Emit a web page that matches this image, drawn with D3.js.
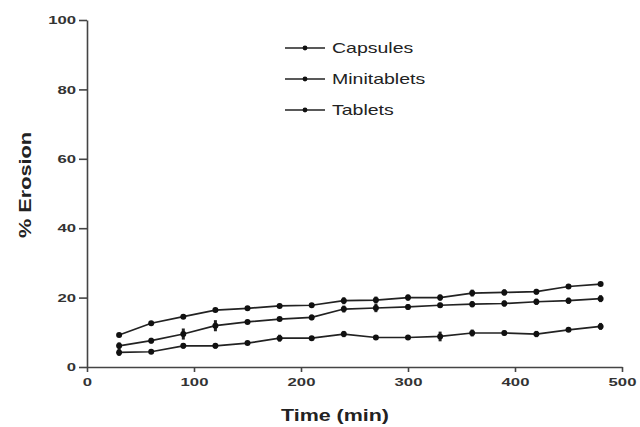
<!DOCTYPE html>
<html>
<head>
<meta charset="utf-8">
<script src="https://cdn.jsdelivr.net/npm/d3@7"></script>
<style>
  body { margin: 0; background: #fff; }
  svg { font-family: "Liberation Sans", Arial, sans-serif; }
  .axis path, .axis line { stroke: #444; stroke-width: 1.6; }
  .axis text { fill: #333; font-size: 11.5px; font-weight: bold; }
  .series path { fill: none; stroke: #222; stroke-width: 1.7; }
</style>
</head>
<body>
<svg id="chart" width="640" height="427"></svg>
<script>
var times = [30, 60, 90, 120, 150, 180, 210, 240, 270, 300, 330, 360, 390, 420, 450, 480];
var capsules = [9.2, 12.6, 14.5, 16.4, 16.9, 17.6, 17.8, 19.1, 19.3, 20.0, 20.0, 21.3, 21.5, 21.7, 23.2, 23.9];
var capsulesErr = [0.6, 0.4, 0.6, 0.5, 0.4, 0.6, 0.5, 1.0, 1.0, 0.9, 0.9, 1.0, 0.9, 0.8, 0.5, 0.4];
var minitablets = [6.1, 7.6, 9.5, 11.9, 13.0, 13.8, 14.3, 16.7, 17.0, 17.3, 17.8, 18.1, 18.3, 18.8, 19.1, 19.7];
var minitabletsErr = [1.0, 0.8, 1.6, 1.6, 0.6, 0.4, 0.8, 1.0, 1.2, 0.8, 0.7, 0.9, 0.9, 0.9, 0.9, 1.0];
var tablets = [4.2, 4.4, 6.1, 6.1, 6.9, 8.3, 8.3, 9.5, 8.5, 8.5, 8.8, 9.8, 9.8, 9.5, 10.7, 11.7];
var tabletsErr = [1.0, 0.6, 0.8, 0.8, 0.4, 1.0, 0.5, 0.9, 0.4, 0.4, 1.4, 1.0, 0.7, 0.9, 0.4, 1.0];
var seriesNames = ["Capsules", "Minitablets", "Tablets"];
var xTicks = [0, 100, 200, 300, 400, 500];
var yTicks = [0, 20, 40, 60, 80, 100];

var svg = d3.select("#chart");
var x = d3.scaleLinear().domain([0, 500]).range([87, 622]);
var y = d3.scaleLinear().domain([0, 100]).range([367, 20]);

// the scanned figure is stretched sideways, so widen text the same way
function stretch(sel, k) {
    sel.each(function() {
        var w = this.getComputedTextLength();
        d3.select(this).attr("textLength", w * k).attr("lengthAdjust", "spacingAndGlyphs");
    });
}

var xAxis = svg.append("g")
    .attr("class", "axis")
    .attr("transform", "translate(0," + y(0) + ")")
    .call(d3.axisBottom(x).tickValues(xTicks).tickSize(5).tickPadding(6).tickSizeOuter(0));

var yAxis = svg.append("g")
    .attr("class", "axis")
    .attr("transform", "translate(" + x(0) + ",0)")
    .call(d3.axisLeft(y).tickValues(yTicks).tickSize(8).tickPadding(3).tickSizeOuter(0));

stretch(xAxis.selectAll("text"), 1.45);
stretch(yAxis.selectAll("text"), 1.45);

// axis titles
svg.append("text")
    .attr("x", 335).attr("y", 421)
    .attr("text-anchor", "middle")
    .style("font-size", "16px").style("font-weight", "bold").style("fill", "#222")
    .attr("textLength", 108).attr("lengthAdjust", "spacingAndGlyphs")
    .text("Time  (min)");

svg.append("text")
    .attr("transform", "translate(31,185) rotate(-90)")
    .attr("text-anchor", "middle")
    .style("font-size", "16px").style("font-weight", "bold").style("fill", "#222")
    .attr("textLength", 106).attr("lengthAdjust", "spacingAndGlyphs")
    .text("% Erosion");

var data = [
    {name: seriesNames[0], values: capsules, err: capsulesErr},
    {name: seriesNames[1], values: minitablets, err: minitabletsErr},
    {name: seriesNames[2], values: tablets, err: tabletsErr}
];

var line = d3.line()
    .x(function(d, i) { return x(times[i]); })
    .y(function(d) { return y(d); });

var series = svg.selectAll(".series")
    .data(data)
    .enter().append("g")
    .attr("class", "series");

series.append("path")
    .attr("d", function(d) { return line(d.values); });

series.each(function(s) {
    var g = d3.select(this);
    var pts = s.values.map(function(v, i) { return {t: times[i], v: v, e: s.err[i]}; });
    g.selectAll(".err")
        .data(pts)
        .enter().append("line")
        .attr("x1", function(d) { return x(d.t); })
        .attr("x2", function(d) { return x(d.t); })
        .attr("y1", function(d) { return y(d.v - d.e); })
        .attr("y2", function(d) { return y(d.v + d.e); })
        .attr("stroke", "#222").attr("stroke-width", 3);
    g.selectAll("circle")
        .data(pts)
        .enter().append("circle")
        .attr("cx", function(d) { return x(d.t); })
        .attr("cy", function(d) { return y(d.v); })
        .attr("r", 3)
        .attr("fill", "#111");
});

// legend
var legendY = [48, 79, 110];
var legend = svg.selectAll(".legend")
    .data(seriesNames)
    .enter().append("g")
    .attr("transform", function(d, i) { return "translate(285," + legendY[i] + ")"; });

legend.append("line")
    .attr("x1", 0).attr("x2", 40)
    .attr("stroke", "#222").attr("stroke-width", 1.7);
legend.append("circle")
    .attr("cx", 20).attr("r", 2.4).attr("fill", "#111");
var legendText = legend.append("text")
    .attr("x", 47).attr("dy", "0.36em")
    .style("font-size", "15px").style("fill", "#222")
    .text(function(d) { return d; });
stretch(legendText, 1.3);
</script>
</body>
</html>
